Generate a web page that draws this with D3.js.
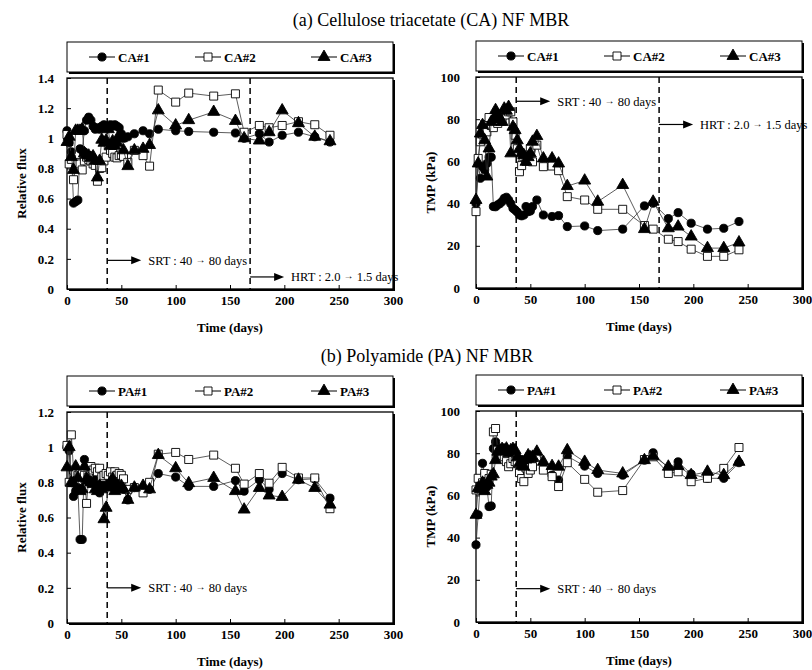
<!DOCTYPE html>
<html>
<head>
<meta charset="utf-8">
<script src="https://cdn.jsdelivr.net/npm/d3@7"></script>
<style>
body { margin: 0; background: #fff; }
svg text { font-family: "Liberation Serif", "Times New Roman", Times, "DejaVu Serif", serif !important; }
</style>
</head>
<body>
<div id="chart"></div>
<script>
// sampling days (shared by all series)
var days = [0,2,4,6,8,10,12,14,16,18,20,22,24,26,28,30,32,34,36,38,40,42,44,46,48,50,52,
            56,62,70,76,84,100,112,135,155,163,177,186,198,213,228,242];

// (a) CA membranes - relative flux
var caFlux1 = [1.05,0.97,0.91,0.57,0.58,0.59,0.93,0.92,1.05,1.12,1.14,1.12,1.08,1.06,1.07,1.06,1.08,1.09,1.08,1.07,1.09,1.08,1.09,1.08,1.07,1.03,1.0,
               1.01,1.03,1.05,1.03,1.06,1.05,1.045,1.04,1.035,1.0,1.03,0.975,1.02,1.04,1.01,0.975];
var caFlux2 = [1.025,0.83,0.86,0.725,0.8,0.84,0.83,0.79,0.85,0.875,0.86,0.85,0.83,0.82,0.715,0.8,0.805,0.85,0.875,0.95,0.92,0.9,0.875,0.87,0.885,0.89,0.88,
               0.84,0.92,0.885,0.815,1.32,1.24,1.30,1.28,1.295,1.04,1.085,1.07,1.085,1.11,1.09,1.02];
var caFlux3 = [0.975,1.01,0.875,0.79,1.05,1.05,1.05,1.06,0.9,0.89,0.885,0.87,0.88,0.85,0.74,0.85,0.99,0.97,0.985,1.06,0.95,0.98,0.95,0.97,1.02,1.0,0.92,
               0.815,0.92,0.93,0.955,1.185,1.085,1.12,1.175,1.115,1.0,0.985,1.04,1.185,1.1,1.01,0.98];

// (a) CA membranes - TMP (kPa)
var caTmp1 = [40,59,52,57.5,56,59,62,62,38.6,38.5,39.4,40,41,42.5,43,41.7,40,37.8,37,36,34.6,34.2,34.6,38.6,36.2,36.5,38.6,
              41.7,34.6,33.9,34.3,29.1,29.4,27.2,27.9,38.9,40.2,32.9,35.7,30.7,27.9,28.3,31.5];
var caTmp2 = [36.2,61.4,69.3,73,77.5,74,80.8,77,76,79.5,78,80.3,79,82.7,82,83.5,83.5,78.7,72.4,66,55.1,58,62.2,60,63,66.1,59.8,
              67.7,57.5,57.8,55.6,43.3,41.7,37.3,37.3,29.6,27.9,23.1,22,18.4,15,15,18.1];
var caTmp3 = [41.7,59,73.2,77.2,70,52.8,66.1,78.7,80,84.3,81.9,80,78.7,85,84,85.8,63.8,76.4,74.8,70,66,63.8,63,59.8,62,63.8,69.3,
              72,61.4,61.4,59,48.3,50.9,40.9,48.8,27.9,40.9,28.3,29.1,24.4,18.9,18.9,21.6];

// (b) PA membranes - relative flux
var paFlux1 = [1.0,0.98,0.8,0.72,0.75,0.77,0.475,0.475,0.93,0.82,0.8,0.83,0.82,0.81,0.77,0.74,0.8,0.78,0.82,0.79,0.8,0.81,0.785,0.8,0.79,0.77,0.76,
               0.7,0.77,0.77,0.76,0.85,0.83,0.777,0.777,0.81,0.75,0.815,0.76,0.85,0.815,0.82,0.71];
var paFlux2 = [1.01,0.8,1.07,0.87,0.85,0.84,0.86,0.85,0.84,0.68,0.83,0.89,0.87,0.88,0.86,0.88,0.83,0.84,0.85,0.84,0.86,0.83,0.86,0.84,0.85,0.84,0.82,
               0.76,0.77,0.74,0.8,0.96,0.97,0.93,0.955,0.88,0.79,0.85,0.795,0.885,0.825,0.825,0.65];
var paFlux3 = [0.885,1.0,0.8,0.795,0.89,0.825,0.75,0.76,0.89,0.82,0.81,0.8,0.79,0.76,0.75,0.78,0.76,0.59,0.655,0.77,0.8,0.82,0.75,0.78,0.76,0.78,0.76,
               0.7,0.77,0.78,0.76,0.955,0.88,0.795,0.825,0.75,0.645,0.768,0.725,0.717,0.815,0.768,0.673];

// (b) PA membranes - TMP (kPa)
var paTmp1 = [36.6,50.8,65.7,75.2,70,64,54.7,55,82.2,85.4,79.9,82,80,82.5,82,81,80.7,81.5,79.9,78,76.7,77,75.2,76,77.5,77,76.7,
              78,72.8,69.6,67.3,78.6,73.9,70.4,69.6,76.7,80.2,72.8,75.9,70.1,68.1,68.1,75.5];
var paTmp2 = [62.6,68.1,64,66,70.4,66,68,70,90.1,91.7,81.4,80.7,79,78.3,76,73.6,75,77.5,76,75.2,70.8,68,66.5,73,70.4,72,73.6,
              78.3,72,68.9,64.2,75.5,67.6,61.5,62.3,77,78.3,70.4,71.2,66.5,68.1,72.8,82.7];
var paTmp3 = [50.8,63.4,63,66,62,65,66,68.9,70,76.7,80.7,81.4,82,81,82.2,80,81.4,82,81.4,78,75.2,74,73.6,77,79,78,78.3,
              80.7,75.9,73.9,73.6,81.4,75.9,72,70.4,76.7,78.6,73.6,73.9,69.6,71.2,69.6,75.9];

var caNames = ['CA#1', 'CA#2', 'CA#3'];
var paNames = ['PA#1', 'PA#2', 'PA#3'];
var dayTicks = [0, 50, 100, 150, 200, 250, 300];
var caFluxTicks = [0, 0.2, 0.4, 0.6, 0.8, 1, 1.2, 1.4];
var paFluxTicks = [0, 0.2, 0.4, 0.6, 0.8, 1, 1.2];
var tmpTicks = [0, 20, 40, 60, 80, 100];
var srtDay = 37;
var hrtDay = 168.5;

var width = 812, height = 670;
var pw = 326, ph = 211;
var serif = '"Liberation Serif", "Times New Roman", Times, "DejaVu Serif", serif';
var shapes = [d3.symbolCircle, d3.symbolSquare, d3.symbolTriangle];
var fills = ['#000', '#fff', '#000'];
var sizes = [52, 64, 62];

var svg = d3.select('#chart')
  .append('svg')
  .attr('width', width)
  .attr('height', height)
  .attr('font-family', serif);

svg.append('text')
  .attr('x', 431).attr('y', 26)
  .attr('text-anchor', 'middle')
  .style('font-size', '18px')
  .text('(a) Cellulose triacetate (CA) NF MBR');
svg.append('text')
  .attr('x', 427).attr('y', 362)
  .attr('text-anchor', 'middle')
  .style('font-size', '18px')
  .text('(b) Polyamide (PA) NF MBR');

function drawPanel(cfg) {
  var g = svg.append('g');
  var x = d3.scaleLinear().domain([0, 300]).range([cfg.left, cfg.left + pw]);
  var y = d3.scaleLinear().domain([0, cfg.yMax]).range([cfg.top + ph, cfg.top]);

  // legend box with shadow
  g.append('rect')
    .attr('x', cfg.left + 2).attr('y', cfg.top - 34)
    .attr('width', pw).attr('height', 30)
    .attr('fill', '#000');
  g.append('rect')
    .attr('x', cfg.left).attr('y', cfg.top - 36)
    .attr('width', pw).attr('height', 30)
    .attr('fill', '#fff').attr('stroke', '#000').attr('stroke-width', 1);

  // plot frame
  g.append('rect')
    .attr('x', cfg.left + 2).attr('y', cfg.top + 2)
    .attr('width', pw).attr('height', ph)
    .attr('fill', '#000');
  g.append('rect')
    .attr('x', cfg.left).attr('y', cfg.top)
    .attr('width', pw).attr('height', ph)
    .attr('fill', '#fff').attr('stroke', '#000').attr('stroke-width', 1.3);

  var xAxis = d3.axisBottom(x).tickValues(dayTicks).tickSizeInner(-4).tickSizeOuter(0).tickPadding(7);
  var yAxis = d3.axisLeft(y).tickValues(cfg.yTicks).tickSizeInner(-4).tickSizeOuter(0).tickPadding(cfg.pad)
    .tickFormat(d3.format('~g'));
  var gx = g.append('g').attr('transform', 'translate(0,' + (cfg.top + ph) + ')').call(xAxis);
  var gy = g.append('g').attr('transform', 'translate(' + cfg.left + ',0)').call(yAxis);
  [gx, gy].forEach(function(a) {
    a.attr('font-family', serif).attr('font-size', 13);
    a.select('.domain').remove();
    a.selectAll('text')
      .style('font-weight', 'bold')
      .attr('fill', '#000');
    a.selectAll('line').attr('stroke', '#000');
  });

  // event lines
  cfg.events.forEach(function(d) {
    g.append('line')
      .attr('x1', x(d)).attr('x2', x(d))
      .attr('y1', cfg.top).attr('y2', cfg.top + ph)
      .attr('stroke', '#000').attr('stroke-width', 1.5)
      .attr('stroke-dasharray', '6,4');
  });

  // annotations
  cfg.notes.forEach(function(n) {
    var ax = x(n.day), ay = y(n.v);
    g.append('line')
      .attr('x1', ax).attr('x2', ax + 26)
      .attr('y1', ay).attr('y2', ay)
      .attr('stroke', '#000').attr('stroke-width', 1.2);
    g.append('path')
      .attr('d', 'M' + (ax + 24) + ',' + (ay - 4) + 'L' + (ax + 34) + ',' + ay + 'L' + (ax + 24) + ',' + (ay + 4) + 'Z')
      .attr('fill', '#000');
    var t = g.append('text')
      .attr('x', ax + 41).attr('y', ay + 4.5)
      .style('font-size', '12.5px');
    t.append('tspan').text(n.text[0]);
    t.append('tspan').attr('dy', -2).style('font-size', '10px').text('\u2192');
    t.append('tspan').attr('dy', 2).text(n.text[1]);
  });

  // series
  cfg.series.forEach(function(s, i) {
    var pts = days.map(function(d, k) { return [d, s[k]]; });
    g.append('path')
      .datum(pts)
      .attr('fill', 'none')
      .attr('stroke', '#333')
      .attr('stroke-width', 0.8)
      .attr('d', d3.line()
        .x(function(d) { return x(d[0]); })
        .y(function(d) { return y(d[1]); }));
    g.selectAll('.m' + i)
      .data(pts)
      .enter()
      .append('path')
      .attr('transform', function(d) { return 'translate(' + x(d[0]) + ',' + y(d[1]) + ')'; })
      .attr('d', d3.symbol().type(shapes[i]).size(sizes[i]))
      .attr('fill', fills[i])
      .attr('stroke', '#000')
      .attr('stroke-width', 0.9);
  });

  // legend items
  var offs = [35, 141, 257];
  cfg.names.forEach(function(name, i) {
    var lx = cfg.left + offs[i], ly = cfg.top - 21;
    g.append('line')
      .attr('x1', lx - 13).attr('x2', lx + 13)
      .attr('y1', ly).attr('y2', ly)
      .attr('stroke', '#000').attr('stroke-width', 1);
    g.append('path')
      .attr('transform', 'translate(' + lx + ',' + ly + ')')
      .attr('d', d3.symbol().type(shapes[i]).size(sizes[i]))
      .attr('fill', fills[i])
      .attr('stroke', '#000')
      .attr('stroke-width', 0.9);
    g.append('text')
      .attr('x', lx + 16).attr('y', ly + 4.5)
      .style('font-size', '13px')
      .style('font-weight', 'bold')
      .text(name);
  });

  // axis titles
  g.append('text')
    .attr('x', cfg.left + pw / 2).attr('y', cfg.top + ph + 43)
    .attr('text-anchor', 'middle')
    .style('font-size', '13px')
    .style('font-weight', 'bold')
    .text('Time (days)');
  g.append('text')
    .attr('transform', 'translate(' + (cfg.left - cfg.titleOff) + ',' + (cfg.top + ph / 2) + ')rotate(-90)')
    .attr('text-anchor', 'middle')
    .style('font-size', '13px')
    .style('font-weight', 'bold')
    .text(cfg.yTitle);
}

drawPanel({
  left: 67, top: 78, yMax: 1.4, yTicks: caFluxTicks, pad: 13, titleOff: 41,
  yTitle: 'Relative flux', names: caNames, series: [caFlux1, caFlux2, caFlux3],
  events: [srtDay, hrtDay],
  notes: [{ day: srtDay, v: 0.19, text: ['SRT : 40 ', ' 80 days'] },
          { day: hrtDay, v: 0.08, text: ['HRT : 2.0 ', ' 1.5 days'] }]
});
drawPanel({
  left: 476, top: 77, yMax: 100, yTicks: tmpTicks, pad: 16, titleOff: 41,
  yTitle: 'TMP (kPa)', names: caNames, series: [caTmp1, caTmp2, caTmp3],
  events: [srtDay, hrtDay],
  notes: [{ day: srtDay, v: 88.5, text: ['SRT : 40 ', ' 80 days'] },
          { day: hrtDay, v: 77.5, text: ['HRT : 2.0 ', ' 1.5 days'] }]
});
drawPanel({
  left: 67, top: 412, yMax: 1.2, yTicks: paFluxTicks, pad: 13, titleOff: 41,
  yTitle: 'Relative flux', names: paNames, series: [paFlux1, paFlux2, paFlux3],
  events: [srtDay],
  notes: [{ day: srtDay, v: 0.2, text: ['SRT : 40 ', ' 80 days'] }]
});
drawPanel({
  left: 476, top: 411, yMax: 100, yTicks: tmpTicks, pad: 16, titleOff: 41,
  yTitle: 'TMP (kPa)', names: paNames, series: [paTmp1, paTmp2, paTmp3],
  events: [srtDay],
  notes: [{ day: srtDay, v: 15.8, text: ['SRT : 40 ', ' 80 days'] }]
});
</script>
</body>
</html>
